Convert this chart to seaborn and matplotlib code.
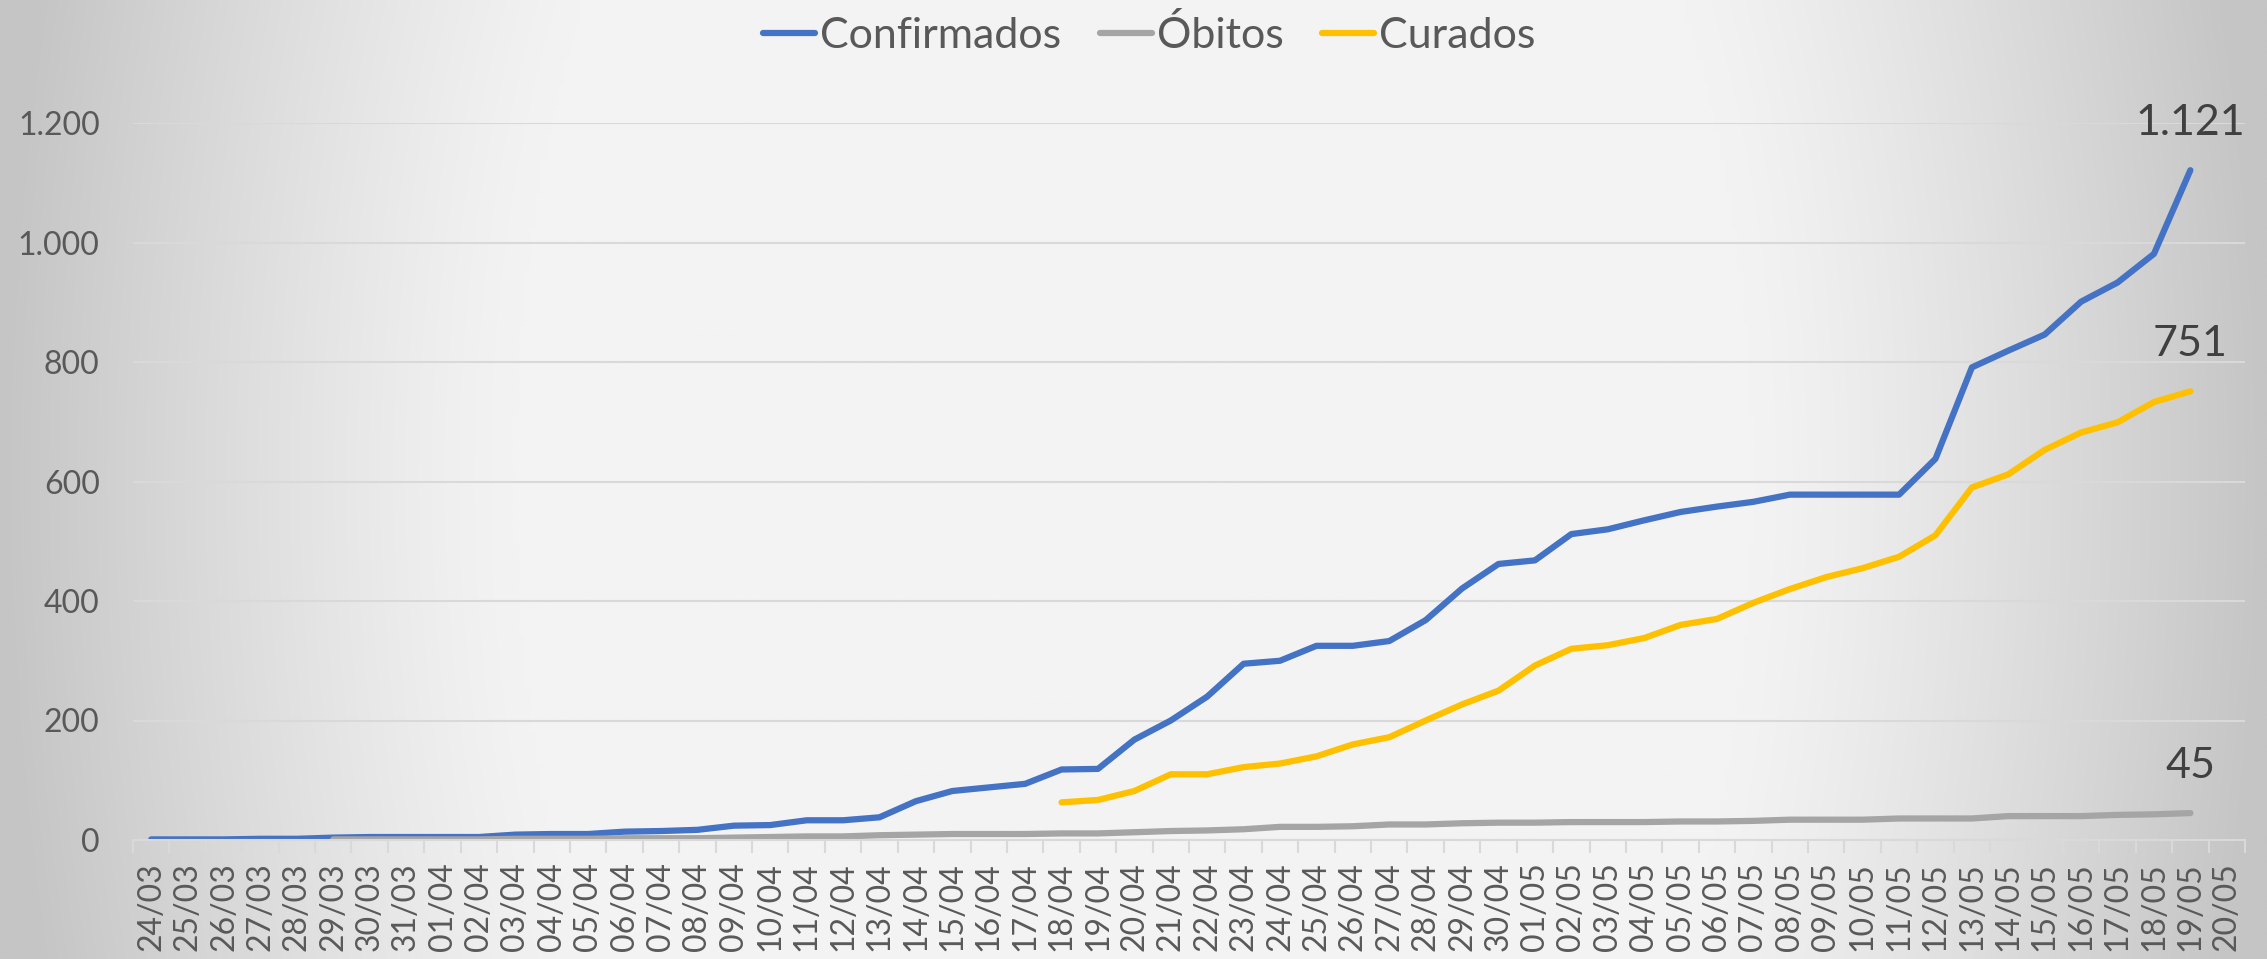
import numpy as np
import pandas as pd
import matplotlib
matplotlib.use("Agg")
import matplotlib.pyplot as plt
from matplotlib.lines import Line2D
import seaborn as sns

nan = np.nan

dates = ["24/03", "25/03", "26/03", "27/03", "28/03", "29/03", "30/03", "31/03",
         "01/04", "02/04", "03/04", "04/04", "05/04", "06/04", "07/04", "08/04", "09/04", "10/04",
         "11/04", "12/04", "13/04", "14/04", "15/04", "16/04", "17/04", "18/04", "19/04", "20/04",
         "21/04", "22/04", "23/04", "24/04", "25/04", "26/04", "27/04", "28/04", "29/04", "30/04",
         "01/05", "02/05", "03/05", "04/05", "05/05", "06/05", "07/05", "08/05", "09/05", "10/05",
         "11/05", "12/05", "13/05", "14/05", "15/05", "16/05", "17/05", "18/05", "19/05", "20/05"]

confirmados = [1, 1, 1, 2, 2, 4, 5, 5,
               5, 5, 9, 10, 10, 14, 15, 17, 24, 25, 33, 33, 38, 65, 82, 88, 94, 118, 119, 168,
               200, 240, 295, 300, 325, 325, 333, 368, 421, 462,
               468, 512, 520, 535, 549, 558, 566, 578, 578, 578, 578, 638, 791, 819, 846, 901,
               933, 981, 1121]

obitos = [nan, nan, nan, nan, nan, 1, 1, 1,
          1, 1, 2, 2, 2, 3, 3, 3, 4, 5, 6, 6, 8, 9, 10, 10, 10, 11, 11, 13,
          15, 16, 18, 22, 22, 23, 26, 26, 28, 29,
          29, 30, 30, 30, 31, 31, 32, 34, 34, 34, 36, 36, 36, 40, 40, 40,
          42, 43, 45]

curados = [nan] * 25 + [63, 67, 82, 110, 110, 122, 128, 140, 160, 172, 200, 227, 250,
                        292, 320, 326, 338, 360, 370, 397, 420, 440, 455, 474, 510, 590, 612,
                        653, 682, 699, 733, 751]

series_names = ["Confirmados", "Óbitos", "Curados"]
series_colors = ["#4472C4", "#A5A5A5", "#FFC000"]
end_labels = ["1.121", "45", "751"]

y_ticks = [0, 200, 400, 600, 800, 1000, 1200]
y_tick_labels = ["0", "200", "400", "600", "800", "1.000", "1.200"]

sns.set_theme(style="white")
plt.rcParams["font.family"] = ["Lato", "DejaVu Sans"]

W, H = 2267, 959
fig = plt.figure(figsize=(W / 100, H / 100), dpi=100)

# radial gradient background (light centre, grey edges)
bg = fig.add_axes([0, 0, 1, 1], zorder=-10)
xs = np.linspace(0, 1, 400)
ys = np.linspace(0, 1, 200)
X, Y = np.meshgrid(xs, ys)
d = np.sqrt(((X - 0.5) / 0.5) ** 2 + ((Y - 0.5) / 2.0) ** 2)
t = np.clip((d - 0.55) / 0.45, 0, 1)
val = (243 - 46 * t ** 1.2) / 255.0
img = np.dstack([val, val, val])
bg.imshow(img, aspect="auto", extent=[0, 1, 0, 1], interpolation="bilinear")
bg.set_axis_off()

ax = fig.add_axes([133 / W, 1 - 840 / H, (2245 - 133) / W, (840 - 123) / H])
ax.patch.set_alpha(0)

n = len(confirmados)
df = pd.DataFrame({"idx": np.arange(n), series_names[0]: confirmados,
                   series_names[1]: obitos, series_names[2]: curados})
long = df.melt(id_vars="idx", var_name="serie", value_name="valor").dropna()

palette = dict(zip(series_names, series_colors))
sns.lineplot(data=long, x="idx", y="valor", hue="serie", hue_order=series_names,
             palette=palette, lw=4.5, ax=ax, legend=False, sort=True,
             solid_capstyle="round", solid_joinstyle="round")

ax.set_xlim(-0.5, len(dates) - 0.5)
ax.set_ylim(0, 1200)
ax.set_xlabel("")
ax.set_ylabel("")

ax.set_xticks(np.arange(len(dates)))
ax.set_xticklabels(dates, rotation=90, fontsize=23, color="#595959")
ax.set_xticks(np.arange(len(dates) + 1) - 0.5, minor=True)
ax.tick_params(axis="x", which="major", length=0, pad=16)
ax.tick_params(axis="x", which="minor", length=9, width=1.5, color="#d9d9d9", bottom=True)

ax.set_yticks(y_ticks)
ax.set_yticklabels(y_tick_labels, fontsize=23, color="#595959")
ax.tick_params(axis="y", length=0, pad=24)

ax.grid(axis="y", color="#d9d9d9", lw=1.5)
ax.grid(axis="x", visible=False)
for s in ["top", "right", "left"]:
    ax.spines[s].set_visible(False)
ax.spines["bottom"].set_color("#d9d9d9")
ax.spines["bottom"].set_linewidth(1.5)

# end labels
for name, lab in zip(series_names, end_labels):
    sub = df[["idx", name]].dropna()
    xi = sub["idx"].iloc[-1]
    yi = sub[name].iloc[-1]
    ax.annotate(lab, (xi, yi), xytext=(0, 34), textcoords="offset points",
                ha="center", va="center", fontsize=31, color="#404040")

handles = [Line2D([0], [0], color=c, lw=4.5, solid_capstyle="round") for c in series_colors]
fig.legend(handles, series_names, loc="center", bbox_to_anchor=(0.507, 0.963), ncol=3,
           frameon=False, fontsize=31, handlelength=1.2, handletextpad=0.12,
           columnspacing=0.9, labelcolor="#595959")

fig.savefig("out.png", dpi=100)
